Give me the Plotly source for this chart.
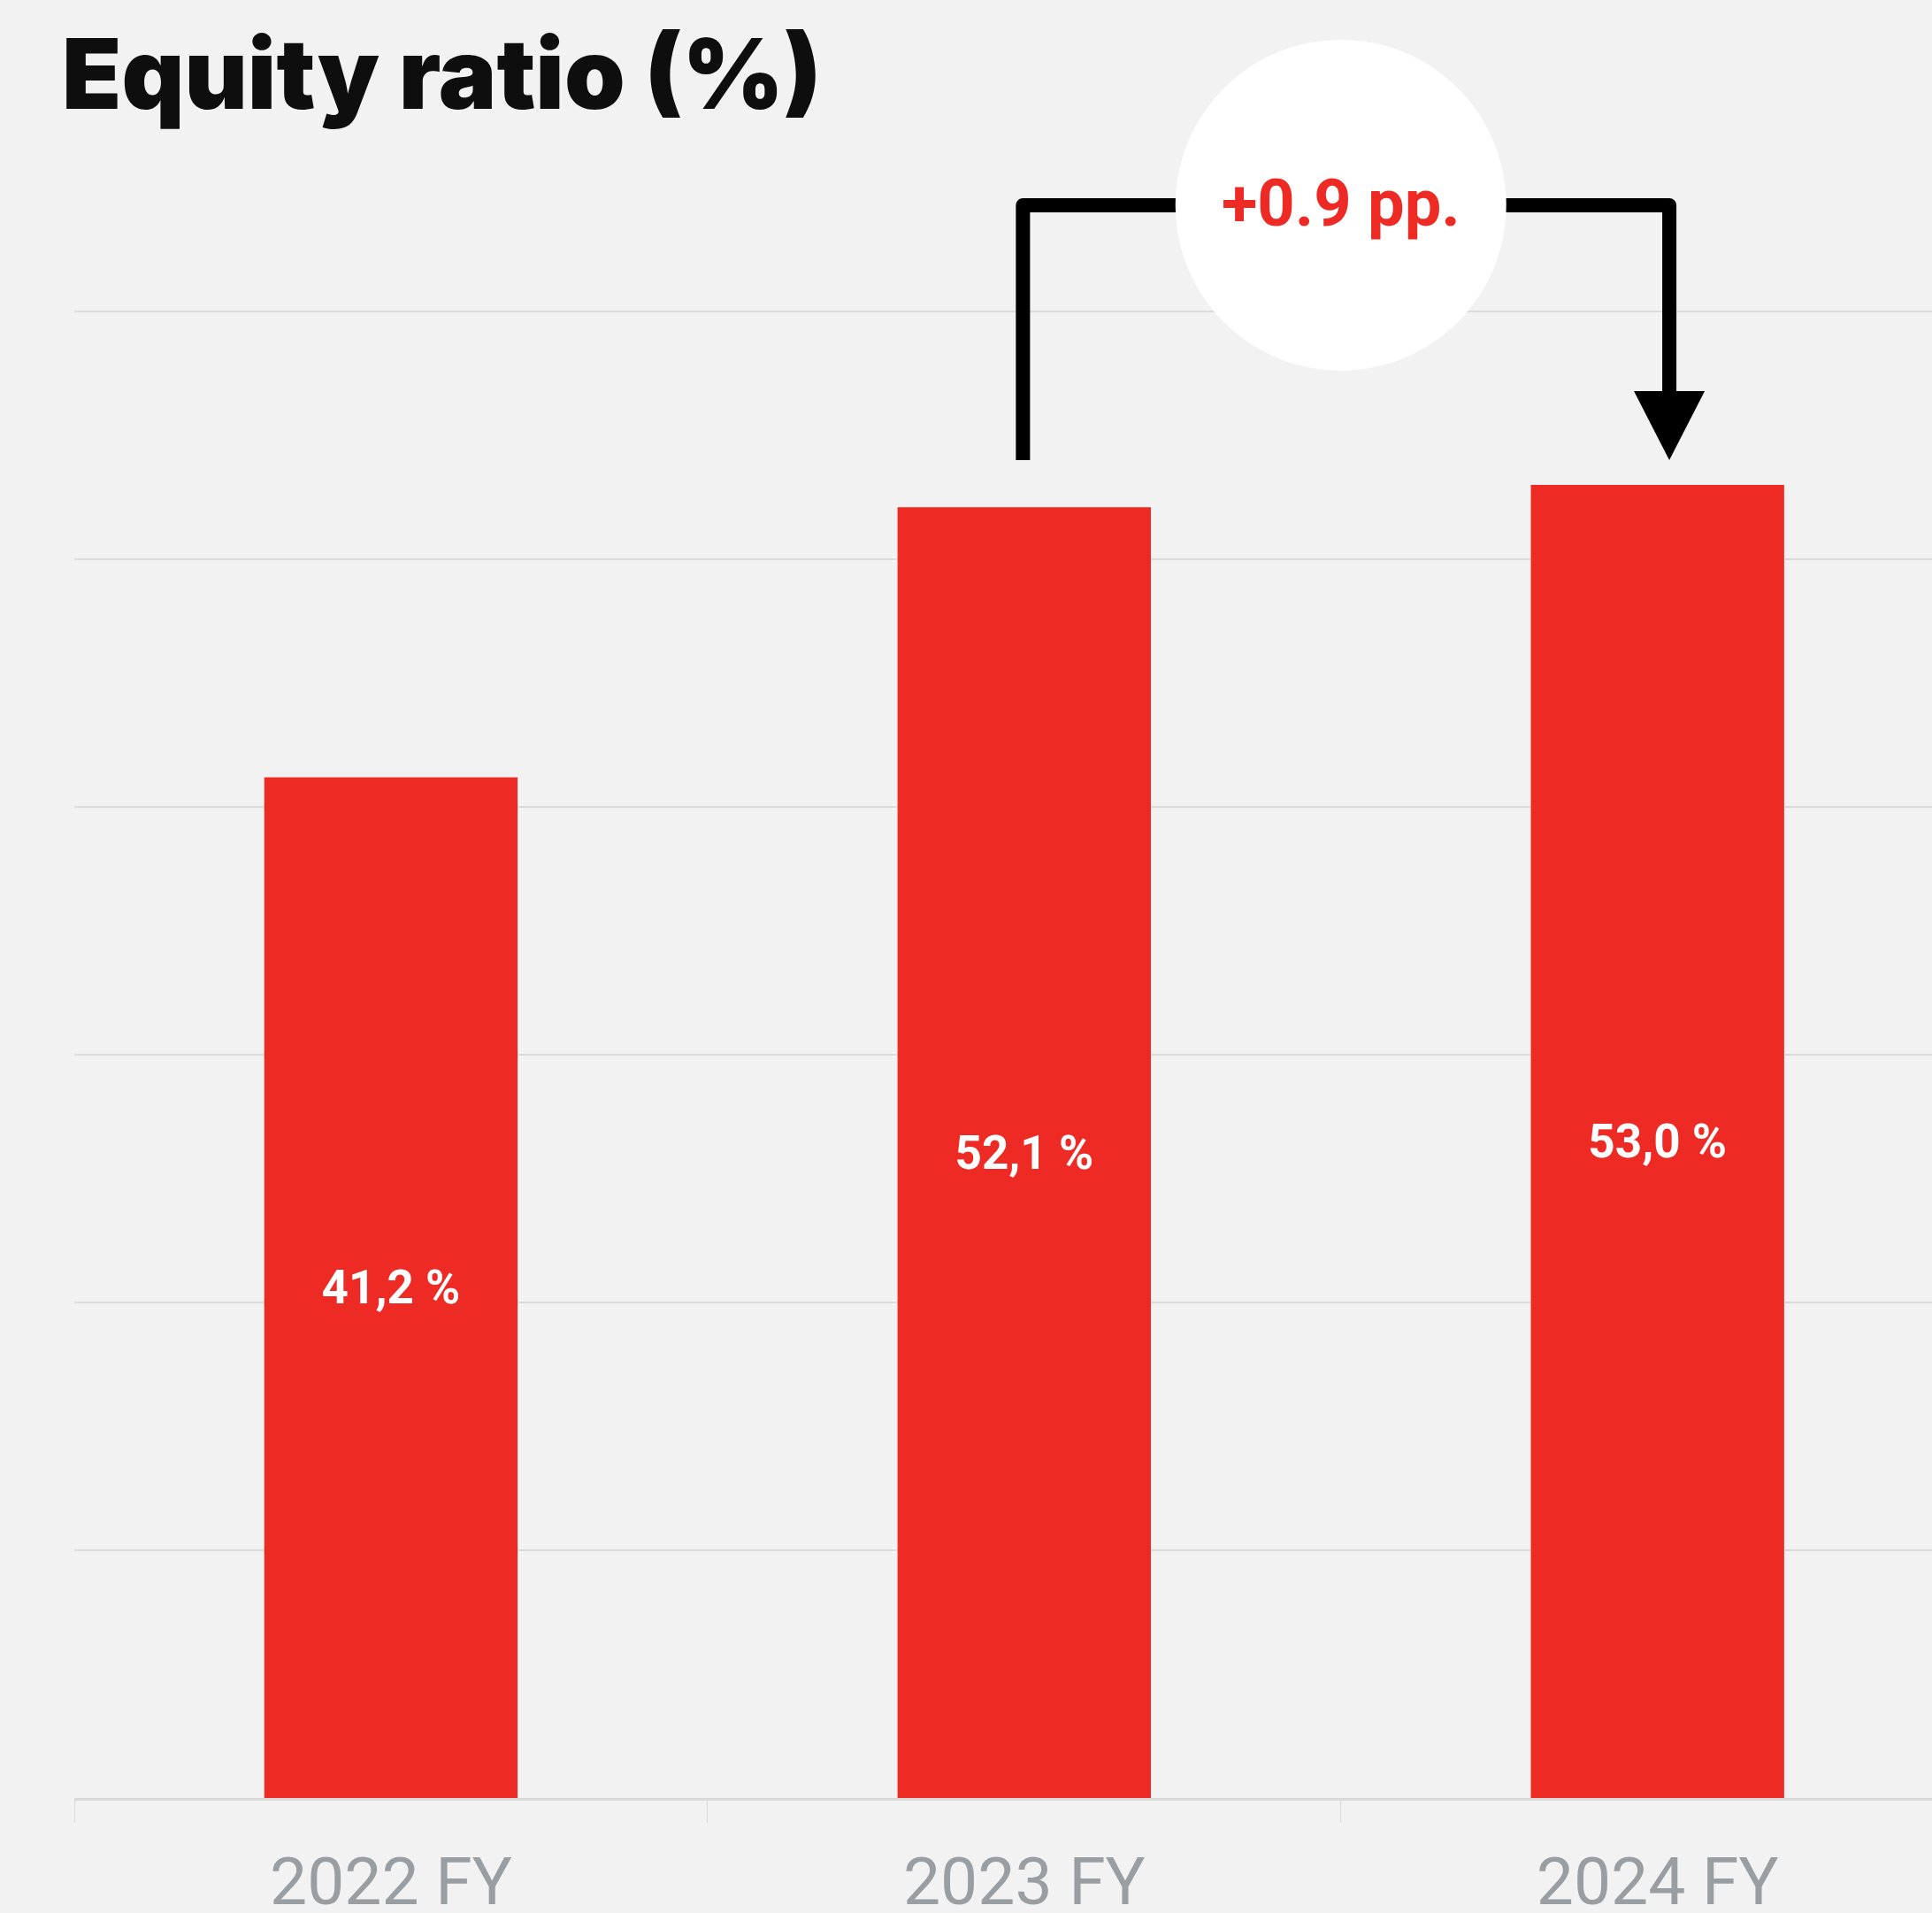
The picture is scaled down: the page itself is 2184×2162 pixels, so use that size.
import plotly.graph_objects as go

# ---- data ----
categories = ["2022 FY", "2023 FY", "2024 FY"]
equity_ratio = [41.2, 52.1, 53.0]
gridline_values = [0, 10, 20, 30, 40, 50, 60]
title_text = "Equity ratio (%)"

BAR_COLOR = "#EE2A24"
BG = "#F2F2F2"

labels = [f"{v:.1f}".replace(".", ",") + " %" for v in equity_ratio]
delta = equity_ratio[2] - equity_ratio[1]
delta_text = f"+{delta:.1f} pp."

fig = go.Figure()
fig.add_trace(go.Bar(
    x=categories,
    y=equity_ratio,
    marker=dict(color=BAR_COLOR, line=dict(width=0)),
    text=labels,
    textposition="inside",
    insidetextanchor="middle",
    textangle=0,
    textfont=dict(family="Roboto", size=53, color="white", weight="bold"),
    hoverinfo="skip",
))

# ---- bracket annotation ----
y_top = 64.29
y_bottom = max(equity_ratio) + 1.0
x_left = 1 - 0.002
x_right = 2 + 0.0187
y_shaft_end = 56.79
half_w = 0.0559

bracket_path = (f"M {x_left},{y_bottom} L {x_left},{y_top} "
                f"L {x_right},{y_top} L {x_right},{y_shaft_end}")
arrow_path = (f"M {x_right - half_w},{y_shaft_end} L {x_right + half_w},{y_shaft_end} "
              f"L {x_right},{y_bottom} Z")

shapes = [
    dict(type="path", path=bracket_path, xref="x", yref="y",
         line=dict(color="black", width=16), layer="above"),
    dict(type="path", path=arrow_path, xref="x", yref="y",
         line=dict(color="black", width=0), fillcolor="black", layer="above"),
    dict(type="circle", xref="x", yref="y",
         xsizemode="pixel", ysizemode="pixel",
         xanchor=1.5, yanchor=y_top,
         x0=-187, x1=187, y0=-187, y1=187,
         fillcolor="white", line=dict(width=0), layer="above"),
]

annotations = [
    dict(text=delta_text, x=1.5, y=y_top + 0.1, xref="x", yref="y",
         showarrow=False, xanchor="center", yanchor="middle",
         font=dict(family="Roboto", size=74, color=BAR_COLOR, weight="bold")),
    dict(text=title_text, x=(68 - 84) / 2100.4, y=(2032 - 83) / 2032,
         xref="paper", yref="paper", showarrow=False,
         xanchor="left", yanchor="middle",
         font=dict(family="Inter", size=110, color="#0E0E0E", weight=900)),
]

px_per_unit = 28.0
bottom_margin = 130

fig.update_layout(
    width=2184, height=2162,
    margin=dict(l=84, r=0, t=0, b=bottom_margin, autoexpand=False),
    paper_bgcolor=BG, plot_bgcolor=BG,
    bargap=0.6,
    showlegend=False,
    shapes=shapes,
    annotations=annotations,
    xaxis=dict(
        type="category",
        automargin=False,
        range=[-0.5, 2.4335],
        tickson="boundaries",
        ticks="outside", ticklen=25, tickcolor="#D9D9D9", tickwidth=1,
        ticklabelstandoff=27,
        showline=True, linecolor="#D9D9D9", linewidth=3,
        showgrid=False,
        tickfont=dict(family="Roboto", size=75, color="#999EA3"),
        fixedrange=True,
    ),
    yaxis=dict(
        automargin=False,
        range=[0, (2162 - bottom_margin) / px_per_unit],
        tickvals=gridline_values,
        showticklabels=False,
        showgrid=True, gridcolor="#DCDCDC", gridwidth=2,
        zeroline=False, showline=False,
        fixedrange=True,
    ),
)

post = """
document.body.style.margin='0';
document.body.style.padding='0';
document.body.style.background='#F2F2F2';
document.documentElement.style.overflow='hidden';
setTimeout(function(){
  document.querySelectorAll('.shapelayer path').forEach(function(p){
    p.style.strokeLinejoin='round';
  });
}, 50);
"""

fig.write_html("out.html", config=dict(displayModeBar=False), post_script=post)
